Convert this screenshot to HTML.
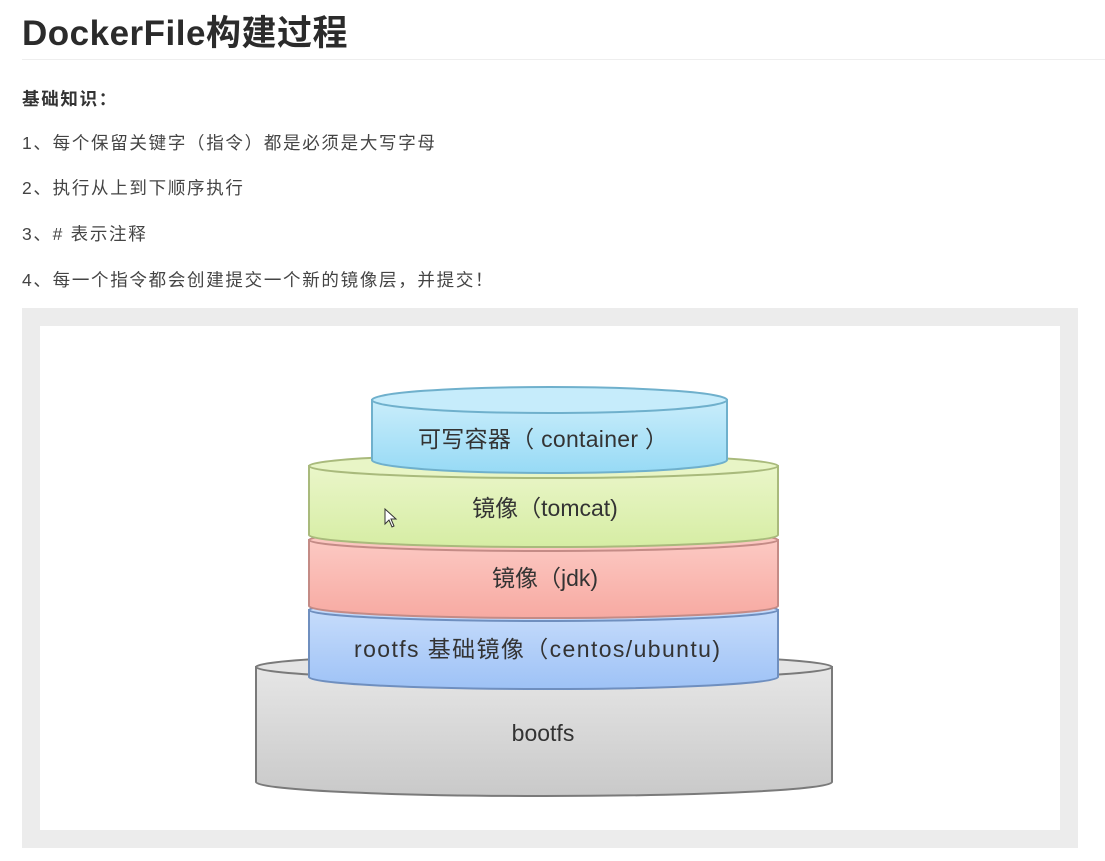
<!DOCTYPE html>
<html><head><meta charset="utf-8"><style>
body{margin:0;width:1105px;height:861px;background:#fff;overflow:hidden;font-family:"Liberation Sans","Noto Sans CJK SC",sans-serif;color:#333}
.t{position:absolute;left:22px;top:5px;font-size:35px;font-weight:bold;color:#2b2b2b;letter-spacing:0.5px}
.hr{position:absolute;left:22px;top:59px;width:1083px;height:1px;background:#eee}
.p{position:absolute;left:22px;font-size:17.5px;color:#444;line-height:20px;letter-spacing:1.7px}
</style></head><body>
<div class="t">DockerFile构建过程</div>
<div class="hr"></div>
<div class="p" style="top:89px;font-weight:bold;color:#333">基础知识：</div>
<div class="p" style="top:133px">1、每个保留关键字（指令）都是必须是大写字母</div>
<div class="p" style="top:178px">2、执行从上到下顺序执行</div>
<div class="p" style="top:224px">3、# 表示注释</div>
<div class="p" style="top:270px">4、每一个指令都会创建提交一个新的镜像层，并提交！</div>
<svg style="position:absolute;left:0;top:0" width="1105" height="861">
<defs>
<linearGradient id="g" x1="0" y1="0" x2="0" y2="1"><stop offset="0" stop-color="#e6e6e6"/><stop offset="1" stop-color="#c9c9c9"/></linearGradient>
<linearGradient id="b" x1="0" y1="0" x2="0" y2="1"><stop offset="0" stop-color="#c6dcfb"/><stop offset="1" stop-color="#9ec2f6"/></linearGradient>
<linearGradient id="r" x1="0" y1="0" x2="0" y2="1"><stop offset="0" stop-color="#fcc9c3"/><stop offset="1" stop-color="#f7aaa2"/></linearGradient>
<linearGradient id="y" x1="0" y1="0" x2="0" y2="1"><stop offset="0" stop-color="#eaf6c9"/><stop offset="1" stop-color="#d6eda4"/></linearGradient>
<linearGradient id="c" x1="0" y1="0" x2="0" y2="1"><stop offset="0" stop-color="#c9edfb"/><stop offset="1" stop-color="#97daf5"/></linearGradient>
</defs>
<rect x="22" y="308" width="1056" height="540" fill="#ececec"/>
<rect x="40" y="326" width="1020" height="504" fill="#fff"/>
<g stroke="#7a7a7a" stroke-width="2">
<path d="M256 667 L256 782 A288 14 0 0 0 832 782 L832 667 Z" fill="url(#g)"/>
<ellipse cx="544" cy="667" rx="288" ry="13" fill="#e4e4e4"/>
</g>
<g stroke="#6f8fbf" stroke-width="2">
<path d="M309 610 L309 677 A234.5 12 0 0 0 778 677 L778 610 Z" fill="url(#b)"/>
<ellipse cx="543.5" cy="610" rx="234.5" ry="11" fill="#c3d9fa"/>
</g>
<g stroke="#c48b86" stroke-width="2">
<path d="M309 540 L309 606 A234.5 12 0 0 0 778 606 L778 540 Z" fill="url(#r)"/>
<ellipse cx="543.5" cy="540" rx="234.5" ry="11" fill="#fbc6c0"/>
</g>
<g stroke="#a9ba7c" stroke-width="2">
<path d="M309 466 L309 535 A234.5 12 0 0 0 778 535 L778 466 Z" fill="url(#y)"/>
<ellipse cx="543.5" cy="466" rx="234.5" ry="12" fill="#e8f5c6"/>
</g>
<g stroke="#6fb0cc" stroke-width="2">
<path d="M372 400 L372 460 A177.5 13 0 0 0 727 460 L727 400 Z" fill="url(#c)"/>
<ellipse cx="549.5" cy="400" rx="177.5" ry="13" fill="#c6ecfb"/>
</g>
<g font-family="'Liberation Sans','Noto Sans CJK SC',sans-serif" font-size="23" fill="#333" text-anchor="middle">
<text x="543" y="447" textLength="250">可写容器（ container ）</text>
<text x="545" y="516">镜像（tomcat)</text>
<text x="545" y="586">镜像（jdk)</text>
<text x="537" y="657" textLength="366">rootfs 基础镜像（centos/ubuntu)</text>
<text x="543" y="741">bootfs</text>
</g>
<path d="M385 509 L385 524 L389 520 L392 527 L394 526 L391 519 L396 519 Z" fill="#fff" stroke="#333" stroke-width="1"/>
</svg>
</body></html>
